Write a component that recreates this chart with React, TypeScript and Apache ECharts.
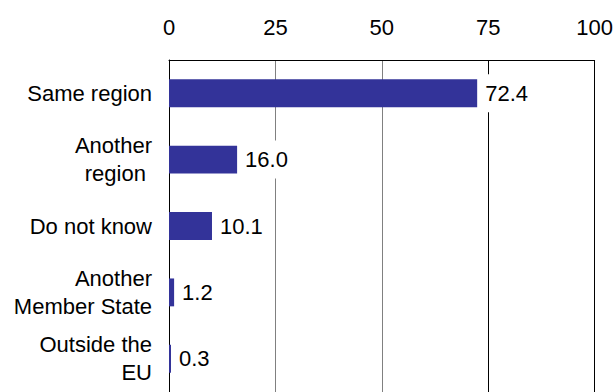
import React, { useEffect, useRef } from "react";
import * as echarts from "echarts";

const categories = ["Same region", "Another\nregion ", "Do not know", "Another\nMember State", "Outside the\nEU"];
const values = [72.4, 16.0, 10.1, 1.2, 0.3];
const tickValues = [0, 25, 50, 75, 100];

const FONT = "'Liberation Sans', Arial, sans-serif";
const FS = 22;

export default function App() {
  const ref = useRef<HTMLDivElement>(null);
  useEffect(() => {
    if (!ref.current) return;
    const chart = echarts.init(ref.current, null, { renderer: "svg" });
    chart.setOption({
      animation: false,
      backgroundColor: "#ffffff",
      grid: { left: 169, top: 60, width: 427, height: 336, containLabel: false },
      xAxis: {
        type: "value",
        position: "top",
        min: tickValues[0],
        max: tickValues[tickValues.length - 1],
        interval: 25,
        axisLine: { show: true, lineStyle: { color: "#000000", width: 1 } },
        axisTick: { show: false },
        axisLabel: { color: "#000000", fontSize: FS, fontFamily: FONT, margin: 22 },
        splitLine: {
          show: true,
          lineStyle: { color: ["#000000", "#808080", "#808080", "#000000", "#000000"], width: 1 },
        },
      },
      yAxis: {
        type: "category",
        inverse: true,
        data: categories,
        axisLine: { show: true, lineStyle: { color: "#000000", width: 1 } },
        axisTick: { show: false },
        axisLabel: {
          color: "#000000",
          fontSize: FS,
          fontFamily: FONT,
          margin: 17,
          lineHeight: 28,
          align: "right",
        },
        splitLine: { show: false },
      },
      series: [
        {
          type: "bar",
          data: values,
          barWidth: "42%",
          barMinHeight: 2,
          itemStyle: { color: "#333399" },
          label: {
            show: true,
            position: "right",
            distance: 5,
            color: "#000000",
            fontSize: FS,
            fontFamily: FONT,
            backgroundColor: "#ffffff",
            padding: [8, 3],
            formatter: (p: any) => Number(p.value).toFixed(1),
          },
        },
      ],
    });
    return () => chart.dispose();
  }, []);
  return (
    <div
      ref={ref}
      style={{ position: "absolute", left: 0, top: 0, width: 616, height: 392 }}
    />
  );
}
